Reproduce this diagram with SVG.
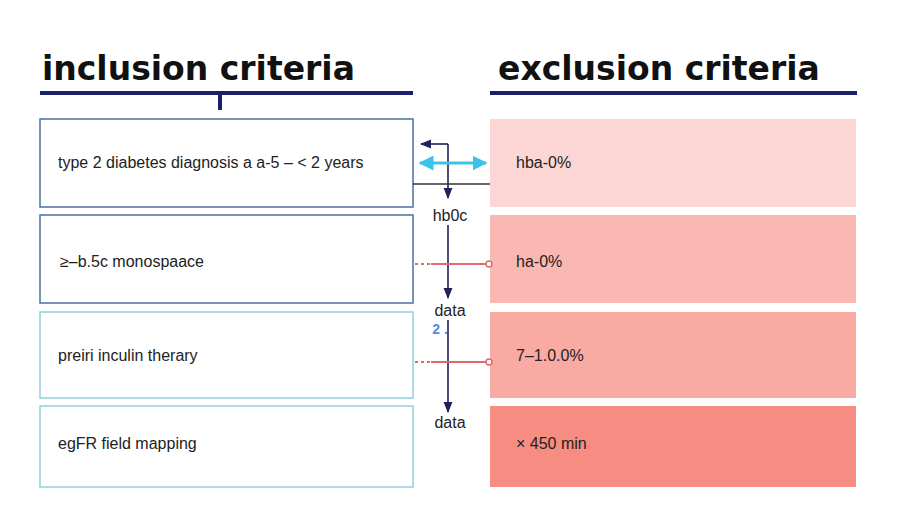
<svg xmlns="http://www.w3.org/2000/svg" width="900" height="520" viewBox="0 0 900 520">
<style>
.t{font-family:"Liberation Sans",Arial,sans-serif;font-size:16px;fill:#222}
.h{font-family:"DejaVu Sans",sans-serif;font-weight:bold;font-size:33px;fill:#111}
.lb{fill:#fff;stroke-width:1.5}
.nv{stroke:#1e2258;stroke-width:1.6;fill:none}
.rd{stroke:#e06a6a;stroke-width:2;fill:none}
</style>
<defs>
<marker id="a" viewBox="0 0 10 10" refX="9" refY="5" markerWidth="7" markerHeight="7" orient="auto-start-reverse"><path d="M0,1L10,5L0,9z" fill="#1e2258"/></marker>
<marker id="c" viewBox="0 0 10 10" refX="9" refY="5" markerWidth="5" markerHeight="5" orient="auto-start-reverse"><path d="M0,0L10,5L0,10z" fill="#3cc4e8"/></marker>
</defs>
<rect width="900" height="520" fill="#fff"/>
<g id="titles">
<text class="h" x="42" y="80">inclusion criteria</text>
<rect x="40" y="91" width="373" height="4" fill="#1a1f6e"/>
<rect x="218" y="95" width="4" height="15" fill="#1a1f6e"/>
<text class="h" x="498" y="80">exclusion criteria</text>
<rect x="490" y="91" width="367" height="4" fill="#1a1f6e"/>
</g>
<g id="inc1"><rect class="lb" x="40" y="119" width="373" height="88" stroke="#4a6fa0"/><text class="t" x="58" y="168">type 2 diabetes  diagnosis a a-5 – &lt; 2  years</text></g>
<g id="inc2"><rect class="lb" x="40" y="215" width="373" height="88" stroke="#4a6fa0"/><text class="t" x="60" y="267">≥–b.5c monospaace</text></g>
<g id="inc3"><rect class="lb" x="40" y="312" width="373" height="86" stroke="#8fd0e0"/><text class="t" x="58" y="361">preiri inculin therary</text></g>
<g id="inc4"><rect class="lb" x="40" y="406" width="373" height="81" stroke="#8fd0e0"/><text class="t" x="58" y="449">egFR field mapping</text></g>
<g id="exc1"><rect x="490" y="119" width="366" height="88" fill="#fcd6d4"/><text class="t" x="516" y="168">hba-0%</text></g>
<g id="exc2"><rect x="490" y="215" width="366" height="88" fill="#fab8b2"/><text class="t" x="516" y="267">ha-0%</text></g>
<g id="exc3"><rect x="490" y="312" width="366" height="86" fill="#f9aaa3"/><text class="t" x="516" y="361">7–1.0.0%</text></g>
<g id="exc4"><rect x="490" y="406" width="366" height="81" fill="#f78d82"/><text class="t" x="516" y="449">× 450 min</text></g>
<g id="connectors">
<path class="nv" d="M448,144H421" marker-end="url(#a)"/>
<path class="nv" d="M448,144V198" marker-end="url(#a)"/>
<path d="M420,163H486" stroke="#3cc4e8" stroke-width="3" marker-start="url(#c)" marker-end="url(#c)"/>
<path d="M413,184H490" stroke="#333" stroke-width="1.5"/>
<path class="nv" d="M448,225V298" marker-end="url(#a)"/>
<path class="nv" d="M448,320V412" marker-end="url(#a)"/>
<path class="rd" d="M415,264H430" stroke-dasharray="3,3"/><path class="rd" d="M431,264H486"/><circle cx="489" cy="264" r="3" fill="#fff" stroke="#e06a6a" stroke-width="1.5"/>
<path class="rd" d="M415,362H430" stroke-dasharray="3,3"/><path class="rd" d="M431,362H486"/><circle cx="489" cy="362" r="3" fill="#fff" stroke="#e06a6a" stroke-width="1.5"/>
<text class="t" x="450" y="221" text-anchor="middle">hb0c</text>
<text class="t" x="450" y="316" text-anchor="middle">data</text>
<text x="440" y="334" font-family="Liberation Sans,sans-serif" font-size="14" font-weight="bold" fill="#4a90e2" text-anchor="middle">2 .</text>
<text class="t" x="450" y="428" text-anchor="middle">data</text>
</g>
</svg>
